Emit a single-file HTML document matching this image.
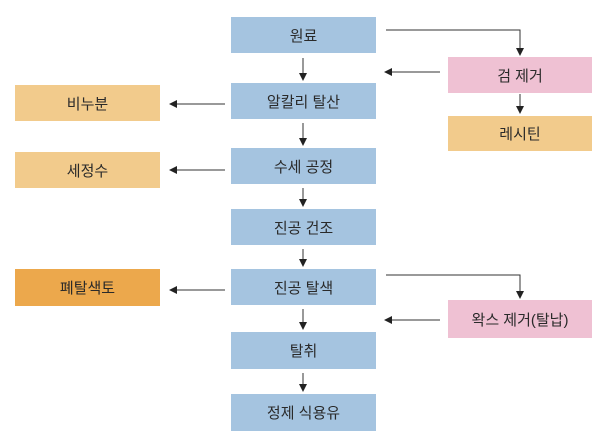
<!DOCTYPE html>
<html><head><meta charset="utf-8"><style>
body{margin:0;width:600px;height:434px;background:#fff;position:relative;overflow:hidden;font-family:"Liberation Sans","Noto Sans CJK KR",sans-serif}
.b{position:absolute;display:flex;align-items:center;justify-content:center;font-size:15px;color:#2a2a2a}
.m{left:231px;width:145px;background:#a5c4e0}
.o{left:15px;width:145px;background:#f2cb8c}
.r{left:448px;width:144px;background:#efc1d3}
svg{position:absolute;left:0;top:0}
</style></head><body>
<svg width="600" height="434">
<defs><marker id="a" markerWidth="8" markerHeight="8" refX="7" refY="4" orient="auto" markerUnits="userSpaceOnUse"><path d="M0,0 L8,4 L0,8 z" fill="#222"/></marker></defs>
<g stroke="#333" stroke-width="1" fill="none" marker-end="url(#a)">
<line x1="303" y1="58" x2="303" y2="80"/>
<line x1="303" y1="123" x2="303" y2="145"/>
<line x1="303" y1="188" x2="303" y2="206"/>
<line x1="303" y1="249" x2="303" y2="266"/>
<line x1="303" y1="309" x2="303" y2="329"/>
<line x1="303" y1="373" x2="303" y2="391"/>
<polyline points="386,30 520,30 520,55"/>
<line x1="440" y1="72" x2="385" y2="72"/>
<line x1="520" y1="94" x2="520" y2="113"/>
<line x1="225" y1="104" x2="170" y2="104"/>
<line x1="225" y1="170" x2="170" y2="170"/>
<line x1="225" y1="290" x2="170" y2="290"/>
<polyline points="386,275 520,275 520,298"/>
<line x1="440" y1="320" x2="385" y2="320"/>
</g></svg>
<div class="b m" style="top:17px;height:36px">원료</div>
<div class="b m" style="top:83px;height:36px">알칼리 탈산</div>
<div class="b m" style="top:148px;height:36px">수세 공정</div>
<div class="b m" style="top:209px;height:36px">진공 건조</div>
<div class="b m" style="top:269px;height:36px">진공 탈색</div>
<div class="b m" style="top:332px;height:37px">탈취</div>
<div class="b m" style="top:394px;height:37px">정제 식용유</div>
<div class="b o" style="top:85px;height:36px">비누분</div>
<div class="b o" style="top:152px;height:36px">세정수</div>
<div class="b o" style="top:269px;height:37px;background:#eca84c">폐탈색토</div>
<div class="b r" style="top:57px;height:36px">검 제거</div>
<div class="b o" style="left:448px;width:144px;top:116px;height:35px">레시틴</div>
<div class="b r" style="top:300px;height:38px">왁스 제거(탈납)</div>
</body></html>
